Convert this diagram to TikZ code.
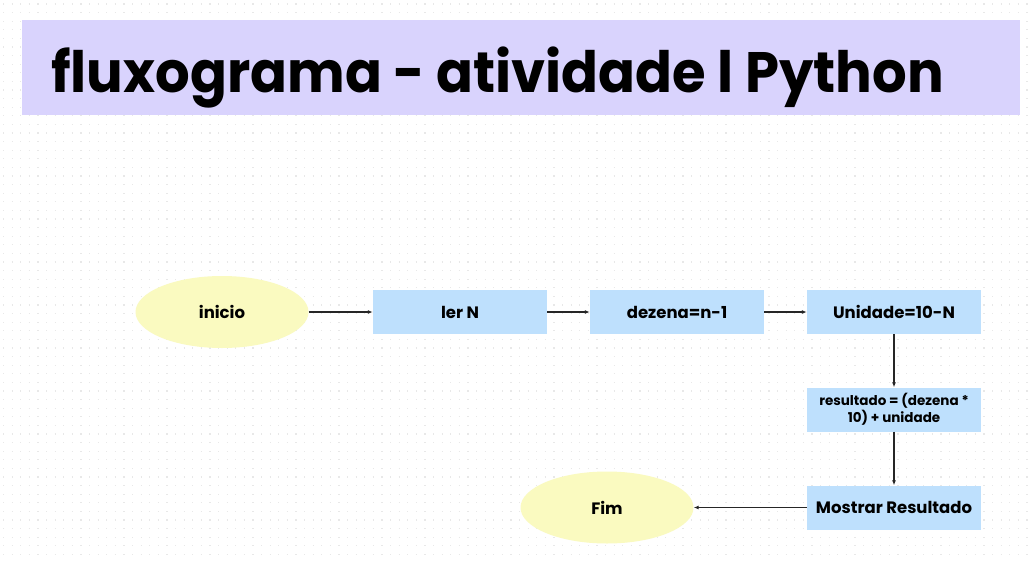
\documentclass[tikz,border=0pt]{standalone}
\usepackage{fontspec}
\setmainfont{Poppins}
\usepackage{graphicx}
\usepackage{tikz}
\usetikzlibrary{arrows.meta,shapes.geometric,positioning}
\definecolor{lavanda}{HTML}{D9D3FD}
\definecolor{azul}{HTML}{BEE0FD}
\definecolor{amarelo}{HTML}{FAFAC0}
\definecolor{pontos}{HTML}{E8E8E8}
\tikzset{
         caixa/.style={fill=azul,minimum width=174pt,minimum height=44pt,inner sep=2pt,align=center,font=\fontsize{16.5}{18}\selectfont\bfseries},
         oval/.style={ellipse,fill=amarelo,minimum width=173pt,minimum height=72pt,font=\fontsize{16.5}{18}\selectfont\bfseries},
         seta/.style={-{Latex[length=5pt,width=4pt]},line width=1.1pt,black!85}
        }

\begin{document}
\begin{tikzpicture}[x=1pt,y=-1pt]
\useasboundingbox(0,0)rectangle(1028,565);
\fill[white](0,0)rectangle(1028,565);
%dot grid
\foreach \y in {4,12.6,...,560}{
\draw[pontos,line width=1.2pt,dash pattern=on 1.2pt off 7.4pt](3,\y)--(1028,\y);
}
%title
\fill[lavanda](22,20)rectangle(1020,115);
\node[anchor=base west,inner sep=0pt,font=\fontsize{57}{60}\selectfont\bfseries](titulo)at(51,92){\scalebox{0.955}[1]{fluxograma - atividade l Python}};
%nodes
\node[oval](inicio)at(222,312){inicio};
\node[caixa](ler)at(460,312){ler N};
\node[caixa](dezena)at(677,312){dezena=n-1};
\node[caixa](unidade)at(894,312){Unidade=10-N};
\node[caixa,font=\fontsize{13.5}{17}\selectfont\bfseries](resultado)at(894,409.5){resultado = (dezena *\\ 10) + unidade};
\node[caixa](mostrar)at(894,507.5){Mostrar Resultado};
\node[oval](fim)at(607,507.5){Fim};
%arrows
\draw[seta](inicio)--(ler);
\draw[seta](ler)--(dezena);
\draw[seta](dezena)--(unidade);
\draw[seta](unidade)--(resultado);
\draw[seta](resultado)--(mostrar);
\draw[seta](mostrar)--(fim);
\end{tikzpicture}
\end{document}
